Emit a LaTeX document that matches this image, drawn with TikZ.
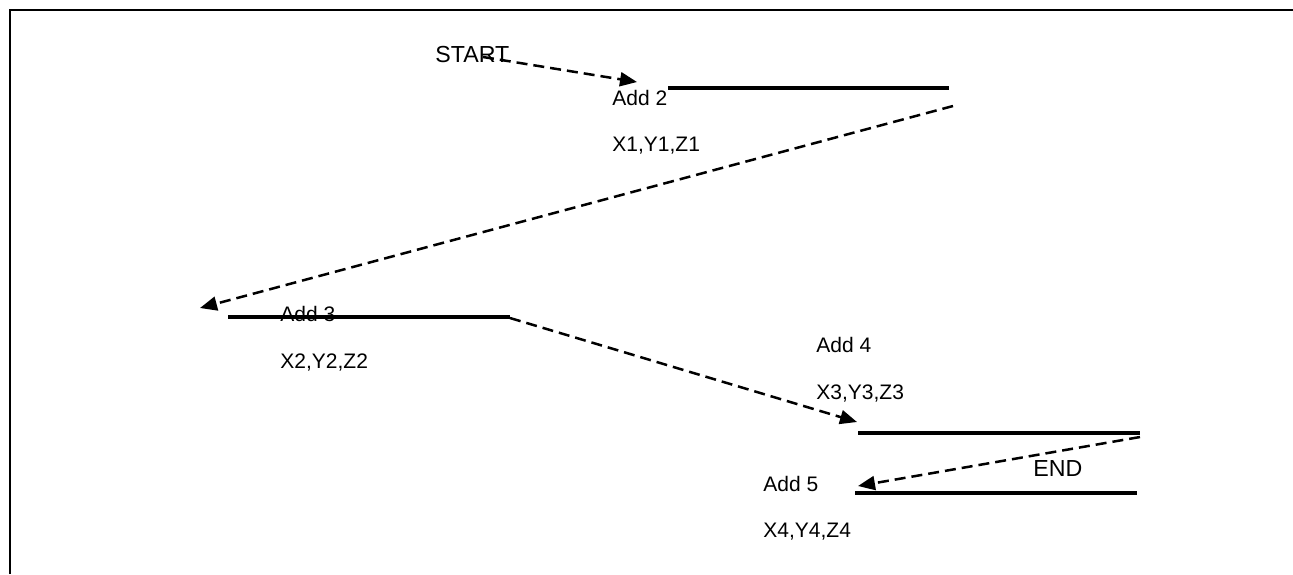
\documentclass[tikz,border=0pt]{standalone}
\usepackage{fontspec}
\setmainfont{Liberation Sans}
\usetikzlibrary{arrows.meta}
\tikzset{
  frame/.style={line width=1pt, draw=black},
  bar/.style={line width=1.9pt, draw=black},
  link/.style={-{Triangle[length=8.5pt, width=7pt]}, line width=1.25pt,
    dash pattern=on 5.5pt off 3pt, draw=black},
  lbl/.style={anchor=base west, inner sep=0pt, font=\fontsize{10.5}{12}\selectfont},
  endlbl/.style={anchor=base west, inner sep=0pt, font=\fontsize{11.6}{13}\selectfont}
}
\begin{document}
\begin{tikzpicture}[x=0.5pt, y=-0.5pt]
  \useasboundingbox (0,0) rectangle (1293,574);
  \fill[white] (0,0) rectangle (1293,574);

  % Outer frame (only top and left edges are inside the page).
  \coordinate (fbl) at (10,574);
  \coordinate (ftl) at (10,10);
  \coordinate (ftr) at (1293,10);
  \draw[frame] (fbl) -- (ftl) -- (ftr);

  % Bars.
  \coordinate (bar2w) at (668,88);   \coordinate (bar2e) at (949,88);
  \coordinate (bar3w) at (228,317);  \coordinate (bar3e) at (510,317);
  \coordinate (bar4w) at (858,433);  \coordinate (bar4e) at (1140,433);
  \coordinate (bar5w) at (855,493);  \coordinate (bar5e) at (1137,493);
  \draw[bar] (bar2w) -- (bar2e);
  \draw[bar] (bar3w) -- (bar3e);
  \draw[bar] (bar4w) -- (bar4e);
  \draw[bar] (bar5w) -- (bar5e);

  % Labels.
  \node[endlbl] (start) at (435,62) {START};
  \node[lbl] (add2) at (612,105) {Add 2};
  \node[lbl] (xyz1) at (612,151) {X1,Y1,Z1};
  \node[lbl] (add3) at (280,321) {Add 3};
  \node[lbl] (xyz2) at (280,368) {X2,Y2,Z2};
  \node[lbl] (add4) at (816,352) {Add 4};
  \node[lbl] (xyz3) at (816,399) {X3,Y3,Z3};
  \node[lbl] (add5) at (763,491) {Add 5};
  \node[lbl] (xyz4) at (763,537) {X4,Y4,Z4};
  \node[endlbl] (end) at (1033,476) {END};

  % Dashed path.
  \coordinate (go1) at (483,57);   \coordinate (to1) at (637,82);
  \coordinate (go2) at (953,106);  \coordinate (to2) at (200,308);
  \coordinate (go3) at (510,318);  \coordinate (to3) at (857,422);
  \coordinate (go4) at (1140,437); \coordinate (to4) at (858,486);
  \draw[link] (go1) -- (to1);
  \draw[link] (go2) -- (to2);
  \draw[link] (go3) -- (to3);
  \draw[link] (go4) -- (to4);
\end{tikzpicture}
\end{document}
